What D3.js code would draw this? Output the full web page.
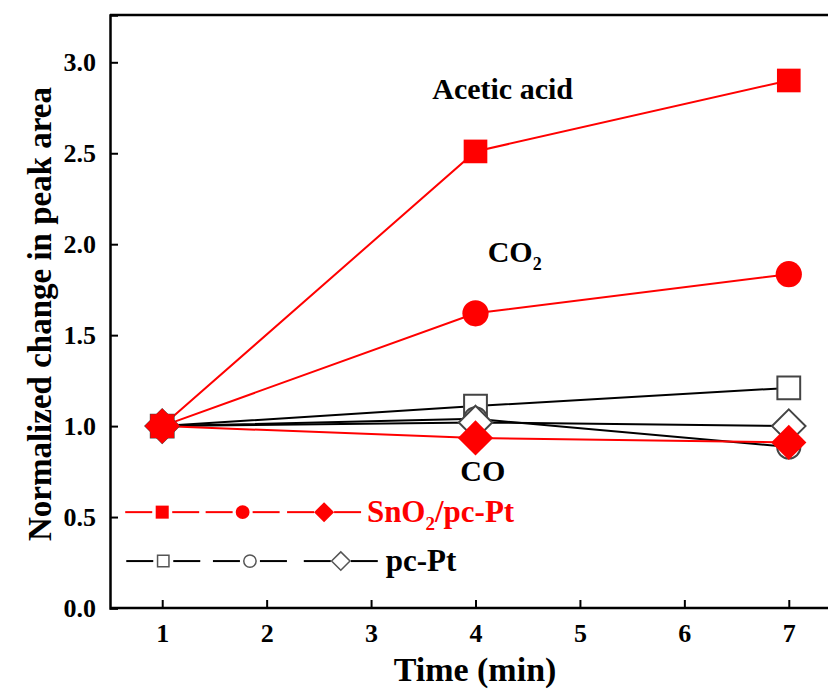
<!DOCTYPE html>
<html>
<head>
<meta charset="utf-8">
<script src="https://cdn.jsdelivr.net/npm/d3@7"></script>
<style>
  html, body { margin: 0; background: #fff; overflow: hidden; }
  svg { display: block; }
  svg text { font-family: "Liberation Serif", "Times New Roman", serif; font-weight: bold; }
</style>
</head>
<body>
<div id="chart"></div>
<script>
// data
const times = [1, 4, 7];
const xTicks = [1, 2, 3, 4, 5, 6, 7];
const yTicks = [0, 0.5, 1.0, 1.5, 2.0, 2.5, 3.0];

const ptSquare  = [1.0, 1.11, 1.21];   // pc-Pt, acetic acid
const ptCircle  = [1.0, 1.04, 0.885];  // pc-Pt, CO2
const ptDiamond = [1.0, 1.02, 1.0];    // pc-Pt, CO
const snSquare  = [1.0, 2.51, 2.90];   // SnO2/pc-Pt, acetic acid
const snCircle  = [1.0, 1.62, 1.835];  // SnO2/pc-Pt, CO2
const snDiamond = [1.0, 0.935, 0.91];  // SnO2/pc-Pt, CO

const width = 830, height = 692;
const margin = { top: 15, right: 2, bottom: 84, left: 110 };
const innerWidth = width - margin.left - margin.right;
const innerHeight = height - margin.top - margin.bottom;

const svg = d3.select("#chart").append("svg")
    .attr("width", width).attr("height", height);
const g = svg.append("g").attr("transform", `translate(${margin.left},${margin.top})`);

// x range runs a bit past the right edge, the frame is cut off there
const x = d3.scaleLinear().domain([0.5, 7.5]).range([0, 731]);
const y = d3.scaleLinear().domain([0, 3.26]).range([innerHeight, 0]);

// rotated square, same width and height
const diamondType = {
    draw(ctx, size) {
        const r = Math.sqrt(size / 2);
        ctx.moveTo(0, -r); ctx.lineTo(r, 0); ctx.lineTo(0, r); ctx.lineTo(-r, 0); ctx.closePath();
    }
};

// axes
g.append("g")
    .attr("transform", `translate(0,${innerHeight})`)
    .call(d3.axisBottom(x).tickValues(xTicks).tickSize(-8).tickPadding(16).tickFormat(d3.format("d")))
    .call(a => a.select(".domain").attr("d", `M0,0H${innerWidth}`).attr("stroke-width", 2.5))
    .call(a => a.selectAll(".tick line").attr("stroke-width", 2))
    .call(a => a.selectAll("text").attr("font-size", 26).attr("fill", "#000"));

g.append("g")
    .call(d3.axisLeft(y).tickValues(yTicks).tickSize(-8).tickPadding(14).tickFormat(d3.format(".1f")))
    .call(a => a.select(".domain").attr("stroke-width", 2.5))
    .call(a => a.selectAll(".tick line").attr("stroke-width", 2))
    .call(a => a.selectAll("text").attr("font-size", 26).attr("fill", "#000"));

// top frame line
g.append("line").attr("x1", 0).attr("x2", innerWidth).attr("y1", 0).attr("y2", 0)
    .attr("stroke", "#000").attr("stroke-width", 2.5);

// axis titles
svg.append("text").attr("x", 475).attr("y", 681).attr("text-anchor", "middle")
    .attr("font-size", 34).text("Time (min)");
svg.append("text").attr("transform", "translate(51,314) rotate(-90)").attr("text-anchor", "middle")
    .attr("font-size", 33).text("Normalized change in peak area");

const line = d3.line().x((d, i) => x(times[i])).y(d => y(d));

const series = [
    { values: ptSquare,  shape: d3.symbolSquare,  size: 520, color: "#000", marker: "#444", fill: "#fff" },
    { values: ptCircle,  shape: d3.symbolCircle,  size: 420, color: "#000", marker: "#444", fill: "#fff" },
    { values: ptDiamond, shape: diamondType,      size: 560, color: "#000", marker: "#444", fill: "#fff" },
    { values: snSquare,  shape: d3.symbolSquare,  size: 560, color: "#ff0000", marker: "#ff0000", fill: "#ff0000" },
    { values: snCircle,  shape: d3.symbolCircle,  size: 540, color: "#ff0000", marker: "#ff0000", fill: "#ff0000" },
    { values: snDiamond, shape: diamondType,      size: 620, color: "#ff0000", marker: "#ff0000", fill: "#ff0000" }
];

// lines first, then markers
series.forEach(s => {
    g.append("path").datum(s.values)
        .attr("d", line).attr("fill", "none")
        .attr("stroke", s.color).attr("stroke-width", 2);
});
series.forEach(s => {
    g.append("g").selectAll("path").data(s.values).enter().append("path")
        .attr("transform", (d, i) => `translate(${x(times[i])},${y(d)})`)
        .attr("d", d3.symbol().type(s.shape).size(s.size))
        .attr("fill", s.fill)
        .attr("stroke", s.marker)
        .attr("stroke-width", s.fill === "#fff" ? 2 : 0);
});

// product labels
g.append("text").attr("x", x(4.26)).attr("y", y(2.80)).attr("text-anchor", "middle")
    .attr("font-size", 30).text("Acetic acid");
const co2 = g.append("text").attr("x", x(4.117)).attr("y", y(1.90)).attr("font-size", 30);
co2.append("tspan").text("CO");
co2.append("tspan").attr("font-size", 18).attr("dy", 8).text("2");
g.append("text").attr("x", x(4.07)).attr("y", y(0.70)).attr("text-anchor", "middle")
    .attr("font-size", 30).text("CO");

// legend
const legendRows = [
    { y: 0.527, centers: [1.0, 1.77, 2.55], color: "#ff0000", fill: "#ff0000",
      shapes: [[d3.symbolSquare, 170], [d3.symbolCircle, 150], [diamondType, 200]], text: "SnO", sub: "2", tail: "/pc-Pt", tx: 2.96 },
    { y: 0.258, centers: [1.01, 1.84, 2.71], color: "#000", fill: "#fff",
      shapes: [[d3.symbolSquare, 130], [d3.symbolCircle, 120], [diamondType, 170]], text: "pc-Pt", sub: "", tail: "", tx: 3.14 }
];
const lx = d3.scaleLinear().domain([1, 2]).range([x(1), x(2)]);
legendRows.forEach(r => {
    const row = g.append("g").attr("transform", `translate(0,${y(r.y)})`);
    r.centers.forEach((c, i) => {
        const cx = lx(c);
        row.append("line").attr("x1", cx - 37).attr("x2", cx - 10).attr("stroke", r.color).attr("stroke-width", 2);
        row.append("line").attr("x1", cx + 10).attr("x2", cx + 37).attr("stroke", r.color).attr("stroke-width", 2);
        row.append("path").attr("transform", `translate(${cx},0)`)
            .attr("d", d3.symbol().type(r.shapes[i][0]).size(r.shapes[i][1]))
            .attr("fill", r.fill).attr("stroke", r.fill === "#fff" ? "#555" : "none").attr("stroke-width", 1.5);
    });
    const t = row.append("text").attr("x", lx(r.tx)).attr("y", 10).attr("font-size", 31).attr("fill", r.color);
    t.append("tspan").text(r.text);
    if (r.sub) {
        t.append("tspan").attr("font-size", 19).attr("dy", 8).text(r.sub);
        t.append("tspan").attr("dy", -8).text(r.tail);
    }
});
</script>
</body>
</html>
